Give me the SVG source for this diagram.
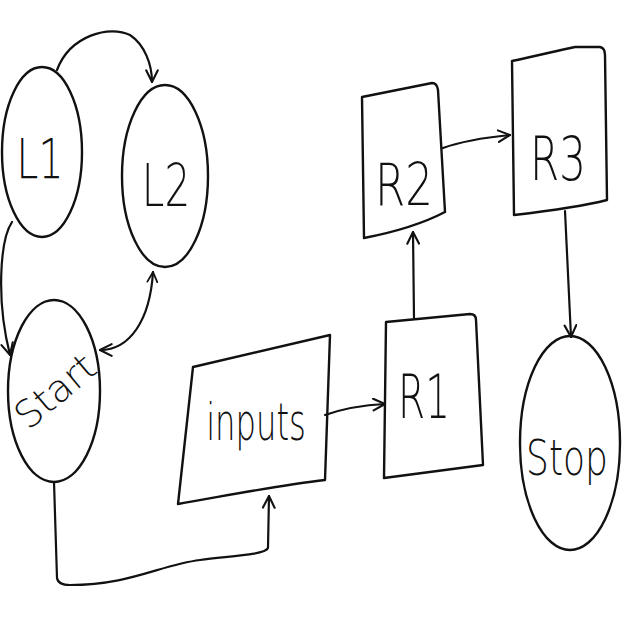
<svg xmlns="http://www.w3.org/2000/svg" width="640" height="640" viewBox="0 0 640 640">
<defs>
<style>
.shape{fill:none;stroke:#111;stroke-width:2.4;stroke-linecap:round;stroke-linejoin:round}
.conn{fill:none;stroke:#111;stroke-width:2.2;stroke-linecap:round;stroke-linejoin:round}
.lbl{font-family:"DejaVu Sans","Liberation Sans",sans-serif;font-weight:300;fill:#111;text-anchor:middle}
</style>
<marker id="ah" viewBox="0 0 12 12" refX="11" refY="6" markerWidth="14" markerHeight="14" markerUnits="userSpaceOnUse" orient="auto">
<path d="M1,1 L11,6 L1,11" fill="none" stroke="#111" stroke-width="1.8" stroke-linecap="round"/>
</marker>
<marker id="ahs" viewBox="0 0 12 12" refX="1" refY="6" markerWidth="12" markerHeight="12" markerUnits="userSpaceOnUse" orient="auto">
<path d="M11,1 L1,6 L11,11" fill="none" stroke="#111" stroke-width="1.8" stroke-linecap="round"/>
</marker>
</defs>
<rect width="640" height="640" fill="#fff"/>

<g id="connectors">
<path class="conn" d="M57,70 C70,35 110,25 130,35 C145,45 152,65 152,82" marker-end="url(#ah)"/>
<path class="conn" d="M12,222 C0,240 -4,300 10,355" marker-end="url(#ah)"/>
<path class="conn" d="M153,272 C150,320 130,350 100,350" marker-start="url(#ahs)" marker-end="url(#ah)"/>
<path class="conn" d="M54,482 L57,578 Q58,585 70,585 C130,585 160,565 200,560 C230,556 265,555 268,548 L269,496" marker-end="url(#ah)"/>
<path class="conn" d="M325,415 C345,408 365,405 385,404" marker-end="url(#ah)"/>
<path class="conn" d="M414,318 L413,232" marker-end="url(#ah)"/>
<path class="conn" d="M443,148 C465,140 490,137 510,135" marker-end="url(#ah)"/>
<path class="conn" d="M565,211 L571,337" marker-end="url(#ah)"/>
</g>

<g id="L1">
<ellipse class="shape" cx="42" cy="152" rx="40" ry="85"/>
<text class="lbl" x="40" y="178" font-size="56" transform="translate(40 0) scale(0.7 1) translate(-40 0)">L1</text>
</g>
<g id="L2">
<ellipse class="shape" cx="165" cy="176" rx="43" ry="91"/>
<text class="lbl" x="166" y="206" font-size="58" transform="translate(166 0) scale(0.7 1) translate(-166 0)">L2</text>
</g>
<g id="Start">
<ellipse class="shape" cx="54" cy="391" rx="46" ry="91"/>
<text class="lbl" x="56" y="404" font-size="38" transform="rotate(-40 56 392)">Start</text>
</g>
<g id="inputs">
<path class="shape" d="M193,367 L330,335 L325,480 C280,485 230,495 178,504 Z"/>
<text class="lbl" x="256" y="440" font-size="52" transform="translate(256 0) scale(0.62 1) translate(-256 0)">inputs</text>
</g>
<g id="R1">
<path class="shape" d="M386,322 L470,314 Q476,314 476,320 L483,465 L384,478 Z"/>
<text class="lbl" x="424" y="418" font-size="60" transform="translate(424 0) scale(0.65 1) translate(-424 0)">R1</text>
</g>
<g id="R2">
<path class="shape" d="M362,97 L432,83 Q437,83 438,90 L445,212 C420,225 390,233 364,238 Z"/>
<text class="lbl" x="404" y="205" font-size="58" transform="translate(404 0) scale(0.75 1) translate(-404 0)">R2</text>
</g>
<g id="R3">
<path class="shape" d="M512,61 C540,55 560,50 575,47 L600,47 Q605,48 605,55 L607,200 C580,207 540,212 514,215 Z"/>
<text class="lbl" x="558" y="180" font-size="60" transform="translate(558 0) scale(0.7 1) translate(-558 0)">R3</text>
</g>
<g id="Stop">
<ellipse class="shape" cx="570" cy="443" rx="50" ry="107"/>
<text class="lbl" x="567" y="475" font-size="50" transform="translate(567 0) scale(0.72 1) translate(-567 0)">Stop</text>
</g>
</svg>
